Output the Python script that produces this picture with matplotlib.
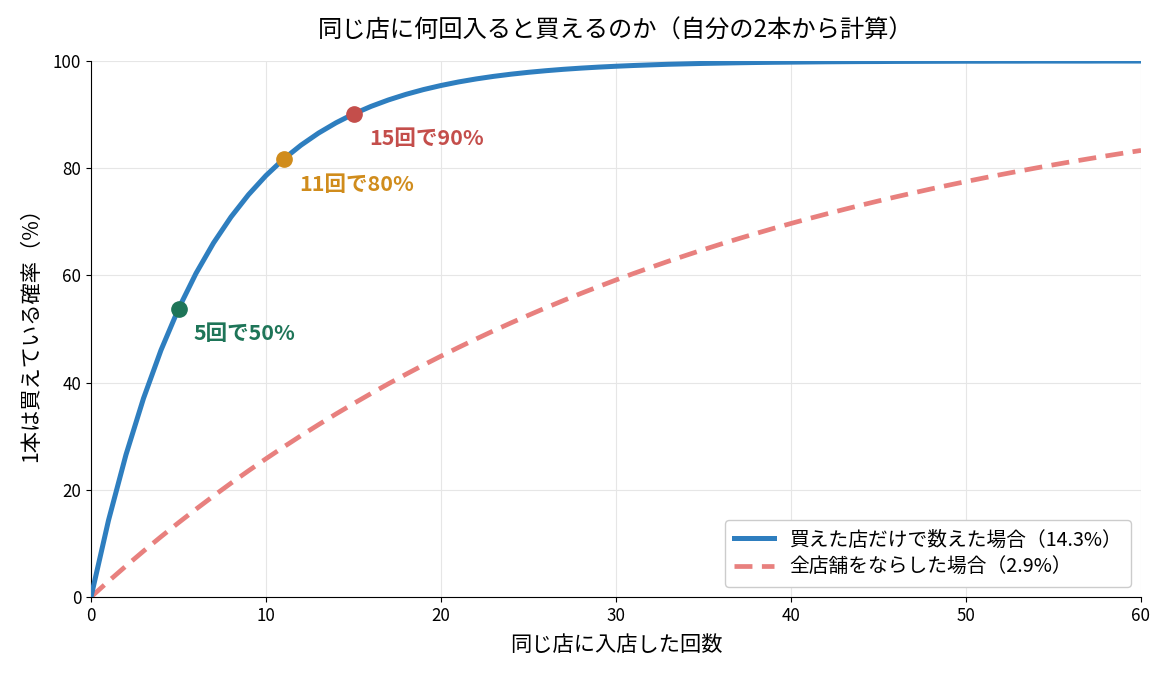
import matplotlib
matplotlib.use("Agg")
import matplotlib.pyplot as plt

plt.rcParams['font.family'] = ['Noto Sans CJK JP', 'DejaVu Sans']

visits = list(range(0, 61))
prob_store = [0.0, 14.3, 26.56, 37.06, 46.06, 53.77, 60.38, 66.05, 70.90, 75.06, 78.63,
              81.69, 84.30, 86.55, 88.47, 90.12, 91.53, 92.74, 93.78, 94.67, 95.43,
              96.09, 96.65, 97.13, 97.54, 97.89, 98.19, 98.45, 98.67, 98.86, 99.02,
              99.16, 99.28, 99.39, 99.47, 99.55, 99.61, 99.67, 99.72, 99.76, 99.79,
              99.82, 99.85, 99.87, 99.89, 99.90, 99.92, 99.93, 99.94, 99.95, 99.96,
              99.96, 99.97, 99.97, 99.98, 99.98, 99.98, 99.98, 99.99, 99.99, 99.99]
prob_all = [0.0, 2.94, 5.79, 8.56, 11.25, 13.86, 16.39, 18.85, 21.24, 23.55, 25.80,
            27.98, 30.10, 32.15, 34.15, 36.08, 37.96, 39.79, 41.56, 43.28, 44.94,
            46.56, 48.13, 49.66, 51.14, 52.57, 53.97, 55.32, 56.64, 57.91, 59.15,
            60.35, 61.51, 62.65, 63.74, 64.81, 65.85, 66.85, 67.82, 68.77, 69.69,
            70.58, 71.44, 72.28, 73.10, 73.89, 74.66, 75.40, 76.13, 76.83, 77.51,
            78.17, 78.81, 79.43, 80.04, 80.63, 81.20, 81.75, 82.29, 82.81, 83.31]

milestone_n = [5, 11, 15]
milestone_labels = ["5回で50%", "11回で80%", "15回で90%"]
milestone_colors = ["#1e7558", "#d08c1c", "#c44e4b"]

fig = plt.figure(figsize=(11.7, 6.76), dpi=100)
ax = fig.add_axes([91/1170, 1 - 597/676, (1141-91)/1170, (597-61)/676])

ax.plot(visits, prob_store, color="#2e7ebf", lw=3.6, label="買えた店だけで数えた場合（14.3%）", zorder=3)
ax.plot(visits, prob_all, color="#e8807e", lw=3.4, ls=(0, (3.8, 2.0)), label="全店舗をならした場合（2.9%）", zorder=2)

for n, lab, c in zip(milestone_n, milestone_labels, milestone_colors):
    y = prob_store[n]
    ax.plot([n], [y], 'o', color=c, ms=11, zorder=4)
    ax.annotate(lab, (n, y), xytext=(11, -18), textcoords='offset points',
                color=c, fontsize=15.5, fontweight='bold', va='center', ha='left')

ax.set_xlim(0, 60)
ax.set_ylim(0, 100)
ax.set_xticks([0, 10, 20, 30, 40, 50, 60])
ax.set_yticks([0, 20, 40, 60, 80, 100])
ax.tick_params(labelsize=12.2)
ax.grid(True, color="#e6e6e6", lw=0.8)
ax.set_axisbelow(True)
for s in ['top', 'right']:
    ax.spines[s].set_visible(False)

ax.set_xlabel("同じ店に入店した回数", fontsize=15.3, labelpad=7)
ax.set_ylabel("1本は買えている確率（%）", fontsize=15.3, labelpad=8)
ax.set_title("同じ店に何回入ると買えるのか（自分の2本から計算）", fontsize=17.5, pad=17)

ax.legend(loc='lower right', fontsize=14.2, frameon=True, framealpha=1, edgecolor="#cccccc",
          handlelength=2.0, borderpad=0.45, labelspacing=0.35)

fig.savefig("out.png", dpi=100)
